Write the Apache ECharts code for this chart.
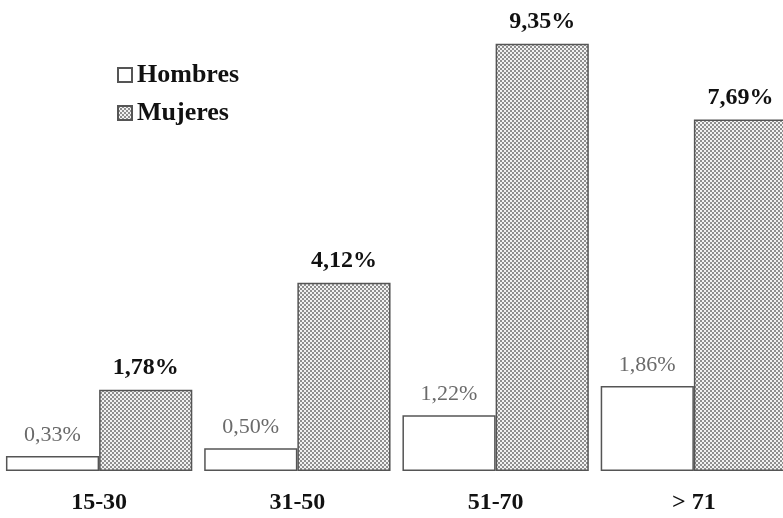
<!DOCTYPE html>
<html>
<head>
<meta charset="utf-8">
<script src="https://cdn.jsdelivr.net/npm/echarts@6/dist/echarts.min.js"></script>
<style>
  html, body { margin: 0; padding: 0; background: #fff; }
  #chart { width: 783px; height: 518px; }
</style>
</head>
<body>
<div id="chart"></div>
<script>
// Age groups and percentages per sex
const categories = ['15-30', '31-50', '51-70', '> 71'];
const hombres = [0.33, 0.50, 1.22, 1.86];
const mujeres = [1.78, 4.12, 9.35, 7.69];
const seriesNames = ['Hombres', 'Mujeres'];

// Fine checkered fill for the second series
function checkerPattern() {
  const c = document.createElement('canvas');
  c.width = 4; c.height = 4;
  const ctx = c.getContext('2d');
  ctx.fillStyle = '#f2f2f2';
  ctx.fillRect(0, 0, 4, 4);
  ctx.fillStyle = '#8f8f8f';
  ctx.fillRect(0, 0, 2, 2);
  ctx.fillRect(2, 2, 2, 2);
  return c;
}

const fmt = p => p.value.toFixed(2).replace('.', ',') + '%';
const serif = '"Liberation Serif", "DejaVu Serif", serif';

const chart = echarts.init(document.getElementById('chart'));
chart.setOption({
  animation: false,
  backgroundColor: '#fff',
  // plot area runs slightly past the right edge, so the last bar is cut off
  grid: { left: 0, width: 793, top: 14, bottom: 47, containLabel: false, outerBoundsMode: 'none' },
  legend: {
    orient: 'vertical',
    left: 117,
    top: 62,
    padding: 0,
    itemWidth: 14,
    itemHeight: 14,
    itemGap: 12,
    icon: 'rect',
    textStyle: { fontFamily: serif, fontWeight: 'bold', fontSize: 26, color: '#111' },
    data: seriesNames
  },
  xAxis: {
    type: 'category',
    data: categories,
    axisLine: { show: false },
    axisTick: { show: false },
    axisLabel: { fontFamily: serif, fontWeight: 'bold', fontSize: 24, color: '#111', margin: 20 }
  },
  yAxis: {
    type: 'value',
    min: 0,
    max: 10,
    show: false,
    splitLine: { show: false }
  },
  series: [
    {
      name: seriesNames[0],
      type: 'bar',
      data: hombres,
      barWidth: '47%',
      barGap: '0%',
      itemStyle: { color: '#ffffff', borderColor: '#555', borderWidth: 1.5 },
      label: {
        show: true,
        position: 'top',
        distance: 10,
        formatter: fmt,
        fontFamily: serif,
        fontSize: 22,
        color: '#6a6a6a'
      }
    },
    {
      name: seriesNames[1],
      type: 'bar',
      data: mujeres,
      barWidth: '47%',
      itemStyle: {
        color: { image: checkerPattern(), repeat: 'repeat' },
        borderColor: '#555',
        borderWidth: 1.5
      },
      label: {
        show: true,
        position: 'top',
        distance: 10,
        formatter: fmt,
        fontFamily: serif,
        fontWeight: 'bold',
        fontSize: 24,
        color: '#111'
      }
    }
  ]
});
</script>
</body>
</html>
